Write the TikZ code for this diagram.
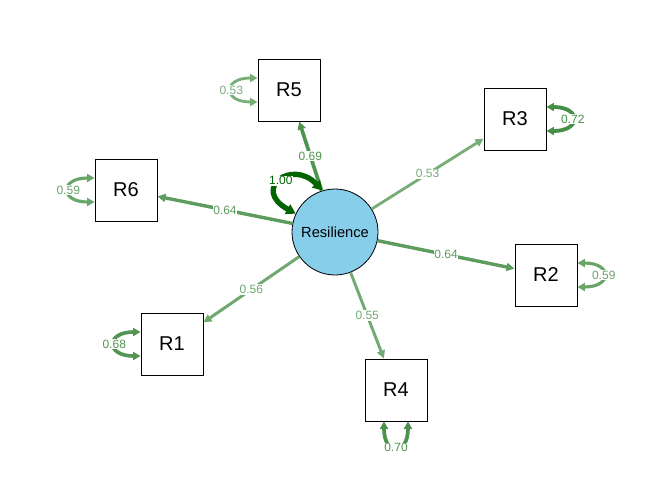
\documentclass[tikz,border=0pt]{standalone}
\usepackage{fontspec}
\setmainfont{Liberation Sans}
\usetikzlibrary{arrows.meta}
\definecolor{dg}{RGB}{0,100,0}
\definecolor{lat}{RGB}{135,206,235}

\begin{document}
\begin{tikzpicture}[x=0.75pt,y=0.75pt,
    latent/.style={circle,draw=black,line width=0.6pt,fill=lat,minimum size=64.5pt,inner sep=0pt,font=\fontsize{11}{13}\selectfont},
    manifest/.style={rectangle,draw=black,line width=0.75pt,fill=white,minimum size=46.5pt,inner sep=0pt,font=\fontsize{15}{18}\selectfont},
    ed/.style={draw=dg!#1!white,line width={0.04pt*#1}},
    lbl/.style={text=dg!#1!white,fill=white,inner sep=0.6pt,font=\fontsize{9}{10}\selectfont},
    tip/.style={-{Triangle[length=6pt,width=6pt]}},
    twotip/.style={{Triangle[length=5.5pt,width=6pt]}-{Triangle[length=5.5pt,width=6pt]}}]
    \useasboundingbox (0,0) rectangle (672,480);
    % factor and indicators
    \node[latent] (res) at (335,248) {Resilience};
    \node[manifest] (r1) at (172,136) {R1};
    \node[manifest] (r2) at (546,205) {R2};
    \node[manifest] (r3) at (515,361) {R3};
    \node[manifest] (r4) at (396,90) {R4};
    \node[manifest] (r5) at (289,390) {R5};
    \node[manifest] (r6) at (126,290) {R6};
    % loadings
    \foreach \tgt/\w/\lab in {r5/69/0.69, r3/53/0.53, r6/64/0.64,
      r2/64/0.64, r1/56/0.56, r4/55/0.55}{
      \draw[ed=\w,tip] (res) -- node[lbl=\w] {\lab} (\tgt);
    }
    % residual variances
    \draw[ed=53,twotip] ([yshift=9pt]r5.west) .. controls +(-35,0) and +(-35,0) .. node[lbl=53] {0.53} ([yshift=-9pt]r5.west);
    \draw[ed=59,twotip] ([yshift=9pt]r6.west) .. controls +(-35,0) and +(-35,0) .. node[lbl=59] {0.59} ([yshift=-9pt]r6.west);
    \draw[ed=68,twotip] ([yshift=9pt]r1.west) .. controls +(-35,0) and +(-35,0) .. node[lbl=68] {0.68} ([yshift=-9pt]r1.west);
    \draw[ed=72,twotip] ([yshift=9pt]r3.east) .. controls +(35,0) and +(35,0) .. node[lbl=72] {0.72} ([yshift=-9pt]r3.east);
    \draw[ed=59,twotip] ([yshift=9pt]r2.east) .. controls +(35,0) and +(35,0) .. node[lbl=59] {0.59} ([yshift=-9pt]r2.east);
    \draw[ed=70,twotip] ([xshift=-9pt]r4.south) .. controls +(0,-35) and +(0,-35) .. node[lbl=70] {0.70} ([xshift=9pt]r4.south);
    \draw[ed=100,{Triangle[length=7pt,width=8pt]}-{Triangle[length=7pt,width=8pt]}] (res.107) .. controls +(-30,32) and +(-45,25) .. node[lbl=100] {1.00} (res.155);
\end{tikzpicture}
\end{document}
